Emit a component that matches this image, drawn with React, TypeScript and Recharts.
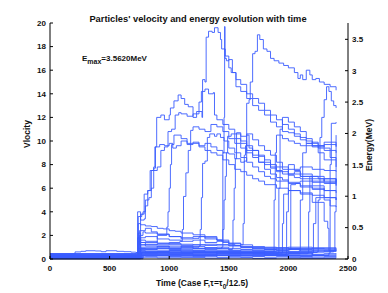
import { LineChart, Line, XAxis, YAxis } from 'recharts';

type Pt = [number, number];

// time axis / tick labels
const timeTicks = [0, 500, 1000, 1500, 2000, 2500];
const velTicks = [0, 2, 4, 6, 8, 10, 12, 14, 16, 18, 20];
const energyTicks = [0, 0.5, 1, 1.5, 2, 2.5, 3, 3.5];

// low band: particles that stay slow
const band01: Pt[] = [[0, 0.45], [700, 0.45], [720, 0.5], [735, 1.8], [750, 1.2], [800, 1.25], [900, 1.2], [1000, 1.25], [1100, 1.15], [1200, 1.2], [1300, 1.15], [1400, 1.2], [1500, 1.15], [1600, 1.05], [1700, 0.95], [1800, 0.9], [1900, 0.85], [2000, 0.9], [2100, 0.85], [2200, 0.9], [2300, 0.85], [2400, 0.9]];
const band02: Pt[] = [[0, 0.42], [200, 0.42], [210, 0.6], [260, 0.65], [300, 0.7], [380, 0.68], [430, 0.62], [470, 0.7], [560, 0.65], [620, 0.62], [680, 0.58], [720, 0.55], [740, 2.2], [760, 1.4], [800, 1.1], [900, 1.05], [1000, 1.1], [1100, 1.0], [1200, 1.05], [1300, 0.95], [1400, 1.0], [1500, 0.9], [1600, 0.95], [1700, 0.85], [1800, 0.8], [1900, 0.75], [2000, 0.8], [2100, 0.7], [2200, 0.75], [2300, 0.7], [2400, 0.75]];
const band03: Pt[] = [[0, 0.2], [720, 0.2], [745, 0.9], [800, 0.85], [900, 0.9], [1000, 0.8], [1100, 0.85], [1200, 0.9], [1300, 0.8], [1400, 0.85], [1500, 0.75], [1600, 0.8], [1700, 0.7], [1800, 0.65], [1900, 0.7], [2000, 0.6], [2100, 0.65], [2200, 0.6], [2300, 0.65], [2400, 0.6]];
const band04: Pt[] = [[0, 0.05], [720, 0.05], [750, 0.7], [800, 0.6], [900, 0.65], [1000, 0.7], [1100, 0.6], [1200, 0.65], [1300, 0.55], [1400, 0.6], [1500, 0.5], [1600, 0.55], [1700, 0.5], [1800, 0.45], [1900, 0.5], [2000, 0.45], [2100, 0.5], [2200, 0.4], [2300, 0.45], [2400, 0.5]];
const band05: Pt[] = [[0, 0.3], [720, 0.3], [740, 0.5], [800, 0.45], [900, 0.5], [1000, 0.4], [1100, 0.45], [1200, 0.35], [1300, 0.4], [1400, 0.35], [1500, 0.4], [1600, 0.3], [1700, 0.35], [1800, 0.3], [1900, 0.35], [2000, 0.3], [2100, 0.25], [2200, 0.3], [2300, 0.25], [2400, 0.3]];
const band06: Pt[] = [[0, 0.1], [730, 0.1], [750, 0.3], [800, 0.25], [900, 0.3], [1000, 0.2], [1100, 0.25], [1200, 0.2], [1300, 0.25], [1400, 0.15], [1500, 0.2], [1600, 0.15], [1700, 0.2], [1800, 0.15], [1900, 0.2], [2000, 0.1], [2100, 0.15], [2200, 0.1], [2300, 0.15], [2400, 0.1]];
const band07: Pt[] = [[0, 0.02], [740, 0.02], [760, 0.15], [900, 0.1], [1100, 0.12], [1300, 0.08], [1500, 0.1], [1700, 0.05], [1900, 0.08], [2100, 0.05], [2400, 0.06]];
const band08: Pt[] = [[0, 0.25], [720, 0.25], [740, 3.0], [760, 2.9], [800, 2.8], [850, 2.75], [900, 2.6], [950, 2.55], [1000, 2.4], [1050, 2.35], [1100, 2.2], [1200, 2.05], [1300, 1.9], [1400, 1.6], [1450, 1.4], [1500, 1.25], [1550, 1.15], [1600, 1.0], [1700, 0.9], [1800, 0.8], [1900, 0.85], [2000, 0.8], [2200, 0.75], [2400, 0.8]];
const band09: Pt[] = [[0, 0.15], [720, 0.15], [750, 2.4], [800, 2.6], [850, 2.3], [900, 2.1], [1000, 1.9], [1100, 1.7], [1200, 1.75], [1250, 1.9], [1300, 1.8], [1400, 1.6], [1500, 1.35], [1600, 1.2], [1700, 1.05], [1800, 1.0], [1900, 0.95], [2000, 1.0], [2200, 0.95], [2400, 0.9]];
const band10: Pt[] = [[0, 0.35], [720, 0.35], [760, 1.6], [800, 1.5], [900, 1.35], [1000, 1.3], [1100, 1.25], [1200, 1.2], [1300, 1.25], [1400, 1.2], [1500, 1.1], [1600, 1.0], [1800, 0.95], [2000, 0.9], [2200, 0.85], [2400, 0.8]];
const band11: Pt[] = [[0, 0.12], [730, 0.12], [770, 0.55], [900, 0.6], [1000, 0.5], [1200, 0.55], [1400, 0.45], [1600, 0.5], [1800, 0.4], [2000, 0.45], [2200, 0.35], [2400, 0.4]];
const band12: Pt[] = [[0, 0.08], [740, 0.08], [780, 0.35], [1000, 0.35], [1200, 0.3], [1400, 0.3], [1600, 0.25], [1800, 0.3], [2000, 0.2], [2200, 0.25], [2400, 0.2]];

// particles accelerated in the middle of the run
const tall01: Pt[] = [[0, 0.42], [720, 0.42], [740, 1.5], [760, 3.8], [780, 4], [800, 4.5], [820, 5.8], [850, 6], [870, 7.5], [900, 7.8], [930, 9.2], [960, 9.5], [990, 10.8], [1020, 11], [1050, 12.2], [1080, 12.4], [1100, 12.3], [1150, 12.1], [1200, 12.3], [1250, 12.5], [1275, 12], [1280, 15.2], [1300, 15], [1310, 18.8], [1330, 19.3], [1360, 19.2], [1380, 19.6], [1410, 19.2], [1430, 18.6], [1440, 17.8], [1470, 17.2], [1500, 16.2], [1520, 15.8], [1560, 14.6], [1600, 14.2], [1650, 13.6], [1700, 13], [1750, 12.6], [1800, 12.2], [1850, 11.6], [1900, 11.2], [1950, 10.8], [2000, 10.7], [2050, 10.4], [2100, 10.1], [2150, 9.8], [2200, 9.9], [2250, 9.6], [2300, 9.4], [2350, 9.2], [2400, 9.0]];
const tall02: Pt[] = [[0, 0.2], [720, 0.2], [750, 2], [780, 2.3], [800, 2.2], [900, 2.1], [1000, 1.9], [1100, 1.8], [1200, 1.9], [1300, 1.7], [1400, 1.6], [1440, 1.5], [1450, 9], [1460, 12], [1465, 19.7], [1468, 17], [1480, 16.8], [1500, 16.9], [1530, 15.8], [1560, 15.2], [1600, 14.8], [1650, 14], [1700, 13.6], [1750, 13.2], [1800, 12.6], [1850, 12.2], [1900, 11.8], [1950, 11.4], [2000, 11], [2050, 10.6], [2100, 10.3], [2150, 10], [2200, 9.6], [2250, 9.4], [2300, 9.2], [2350, 8.6], [2400, 8.4]];
const tall03: Pt[] = [[0, 0.05], [720, 0.05], [735, 4], [760, 3.3], [790, 3.4], [800, 5], [830, 5.2], [850, 7.5], [870, 7.8], [880, 9.5], [895, 12], [930, 12.2], [960, 11.8], [1000, 12.2], [1010, 12.8], [1040, 13.4], [1075, 13.9], [1100, 13.6], [1130, 13.1], [1160, 12.9], [1200, 12], [1230, 12.5], [1250, 13.3], [1270, 14.2], [1300, 14.4], [1330, 14], [1370, 14.1], [1380, 12.2], [1400, 11.8], [1450, 11.4], [1500, 11], [1550, 10.6], [1600, 10], [1650, 9.6], [1700, 9.2], [1750, 8.7], [1800, 8.4], [1850, 7.8], [1900, 7.5], [1950, 7.2], [2000, 7.1], [2050, 6.9], [2100, 6.8], [2200, 6.5], [2300, 6.4], [2400, 6.3]];
const tall04: Pt[] = [[0, 0.05], [730, 0.05], [760, 1.8], [800, 1.9], [900, 1.7], [1000, 1.6], [1100, 1.5], [1200, 1.6], [1300, 1.4], [1400, 1.5], [1500, 1.3], [1600, 1.2], [1620, 3], [1630, 8.8], [1640, 9.6], [1650, 13.2], [1670, 13.5], [1680, 15], [1700, 17.4], [1720, 17.6], [1740, 19], [1760, 18.6], [1790, 17.8], [1820, 17.6], [1850, 17], [1880, 16.8], [1920, 16.6], [1960, 16.4], [2000, 16.2], [2050, 15.8], [2080, 15.3], [2100, 15.6], [2120, 15.2], [2150, 16], [2180, 15.6], [2200, 15.2], [2230, 15.3], [2260, 15], [2300, 14.8], [2350, 14.6], [2400, 14.3]];
const tall05: Pt[] = [[0, 0.42], [720, 0.42], [760, 1.2], [900, 1.3], [1000, 1.4], [1090, 1.5], [1110, 2.5], [1120, 5.3], [1140, 7.3], [1160, 9.2], [1180, 10.9], [1200, 11.2], [1250, 11], [1300, 10.8], [1350, 11.4], [1400, 11.2], [1450, 10.8], [1500, 10.2], [1550, 9.8], [1600, 9.4], [1650, 9], [1700, 8.6], [1750, 8.2], [1800, 8], [1850, 7.7], [1900, 7.4], [2000, 7.2], [2100, 7], [2200, 6.8], [2300, 6.6], [2400, 6.4]];
const tall06: Pt[] = [[0, 0.2], [720, 0.2], [760, 1], [900, 1.1], [1000, 1.0], [1100, 1.05], [1200, 1.0], [1250, 1.1], [1260, 2.5], [1270, 5.2], [1280, 8.1], [1300, 8.3], [1320, 10.3], [1340, 10.6], [1380, 10.4], [1400, 10.6], [1430, 10.3], [1460, 10], [1500, 9.4], [1550, 9], [1600, 8.6], [1650, 8.2], [1700, 7.8], [1750, 7.4], [1800, 7], [1850, 6.8], [1900, 6.6], [2000, 6.4], [2100, 6.1], [2200, 5.9], [2300, 5.8], [2400, 5.6]];
const tall07: Pt[] = [[0, 0.3], [720, 0.3], [760, 0.9], [900, 1], [1000, 0.9], [1100, 1], [1200, 0.9], [1300, 0.95], [1400, 0.9], [1440, 1], [1450, 2.5], [1460, 5], [1470, 7], [1480, 9], [1490, 10.4], [1520, 10.6], [1550, 10.2], [1600, 9.8], [1650, 9.2], [1700, 8.8], [1750, 8.2], [1800, 7.6], [1850, 7.2], [1900, 6.9], [1950, 6.7], [2000, 6.5], [2100, 6.6], [2200, 6.2], [2300, 5.2], [2400, 5]];
const tall08: Pt[] = [[0, 0.1], [720, 0.1], [740, 3.6], [770, 3.8], [790, 5.5], [820, 5.8], [840, 7.5], [870, 7.7], [885, 9.5], [920, 9.7], [960, 9.6], [1000, 9.8], [1030, 9.4], [1060, 9.6], [1100, 10], [1150, 9.8], [1200, 9.9], [1250, 9.6], [1300, 9.8], [1350, 9.5], [1400, 9.2], [1450, 9.0], [1500, 8.9], [1550, 8.5], [1600, 8.2], [1630, 8.3], [1650, 10.5], [1670, 9.4], [1700, 9.2], [1750, 8.8], [1800, 8.2], [1850, 8], [1900, 7.8], [2000, 7.6], [2100, 7.8], [2200, 7.6], [2300, 7.5], [2400, 7.4]];
const tall09: Pt[] = [[0, 0.05], [730, 0.05], [760, 1.4], [900, 2], [980, 2.7], [990, 4], [1000, 6], [1010, 8], [1020, 9.7], [1040, 10.5], [1100, 10.2], [1150, 9.7], [1200, 9.8], [1250, 9.5], [1300, 9.2], [1350, 9], [1400, 8.8], [1450, 8.4], [1500, 8], [1550, 7.6], [1600, 7.4], [1650, 7.1], [1700, 6.8], [1750, 6.6], [1800, 6.3], [1900, 6], [2000, 5.8], [2100, 5.6], [2200, 5.4], [2300, 5.2], [2400, 5]];
const tall10: Pt[] = [[0, 0.15], [720, 0.15], [760, 0.8], [900, 0.9], [1100, 0.85], [1300, 0.9], [1500, 0.8], [1530, 0.9], [1535, 3.3], [1545, 6], [1555, 8.5], [1565, 10.7], [1600, 10.4], [1650, 10.6], [1700, 10.1], [1750, 9.6], [1800, 9.2], [1850, 8.8], [1900, 8.2], [1950, 7.6], [2000, 7.2], [2050, 7.4], [2100, 7], [2200, 6.6], [2300, 6.8], [2400, 6.6]];

// particles accelerated late
const late01: Pt[] = [[0, 0.3], [720, 0.3], [760, 0.6], [1000, 0.7], [1300, 0.65], [1600, 0.6], [1870, 0.6], [1880, 5], [1890, 9], [1900, 10.5], [1950, 10.2], [2000, 10], [2050, 9.8], [2100, 9.6], [2200, 9.5], [2300, 9.7], [2400, 9.5]];
const late02: Pt[] = [[0, 0.2], [720, 0.2], [760, 0.5], [1200, 0.5], [1600, 0.45], [1910, 0.5], [1920, 6], [1930, 11], [1950, 12], [2000, 11.6], [2050, 11.2], [2100, 10.8], [2150, 10.2], [2200, 9.8], [2250, 9], [2300, 8.4], [2400, 7.8]];
const late03: Pt[] = [[0, 0.05], [730, 0.05], [760, 0.3], [1200, 0.3], [1600, 0.35], [1975, 0.4], [1985, 4], [2000, 8], [2050, 7.5], [2100, 7.2], [2200, 7], [2300, 6.8], [2400, 6.2]];
const late04: Pt[] = [[0, 0.42], [720, 0.42], [760, 0.75], [1200, 0.7], [1600, 0.75], [2010, 0.8], [2020, 6.3], [2060, 6.4], [2100, 6.2], [2200, 6], [2300, 5.8], [2400, 5.8]];
const late05: Pt[] = [[0, 0.1], [730, 0.1], [770, 0.6], [1400, 0.55], [1800, 0.6], [2090, 0.7], [2100, 5], [2120, 9], [2150, 9.8], [2200, 9.6], [2300, 9.9], [2400, 9.6]];
const late06: Pt[] = [[0, 0.25], [720, 0.25], [760, 0.45], [1400, 0.5], [1800, 0.45], [2160, 0.5], [2170, 4], [2180, 7], [2250, 6.8], [2300, 6.5], [2400, 6.8]];
const late07: Pt[] = [[0, 0.15], [720, 0.15], [760, 0.35], [1400, 0.4], [1800, 0.35], [2200, 0.5], [2210, 3], [2230, 5.2], [2300, 5], [2350, 4.5], [2400, 4.4]];
const late08: Pt[] = [[0, 0.35], [720, 0.35], [760, 0.55], [1400, 0.6], [1800, 0.55], [2240, 0.6], [2250, 5], [2265, 10.3], [2280, 12], [2300, 13.5], [2320, 14.6], [2340, 14.2], [2360, 13.4], [2380, 13], [2400, 12.8]];
const late09: Pt[] = [[0, 0.02], [740, 0.02], [780, 0.25], [1400, 0.3], [1800, 0.3], [2340, 0.5], [2350, 8], [2360, 11.5], [2400, 11.6]];
const late10: Pt[] = [[0, 0.2], [720, 0.2], [760, 0.6], [1400, 0.65], [1800, 0.6], [2380, 0.7], [2390, 4], [2400, 10.5]];
const late11: Pt[] = [[0, 0.1], [730, 0.1], [770, 0.4], [1400, 0.5], [1940, 0.5], [1950, 3], [1960, 5.5], [2000, 5.8], [2100, 5.5], [2200, 4.8], [2300, 3.2], [2330, 2.6], [2340, 0.7], [2400, 0.8]];

const particles: Pt[][] = [
  band01, band02, band03, band04, band05, band06, band07, band08, band09, band10, band11, band12,
  tall01, tall02, tall03, tall04, tall05, tall06, tall07, tall08, tall09, tall10,
  late01, late02, late03, late04, late05, late06, late07, late08, late09, late10, late11,
];

const BLUE = '#3a5cff';
const FONT = '"Liberation Sans", Arial, sans-serif';
const tickStyle = { fill: '#111', fontSize: 8, fontWeight: 700, fontFamily: FONT };

const App = () => {
  return (
    <div style={{ position: 'absolute', left: 0, top: 0, width: 388, height: 293, background: '#fff' }}>
      <LineChart width={388} height={293} margin={{ top: 23, right: 0, bottom: 14, left: 0 }}>
        <XAxis
          dataKey="t"
          type="number"
          domain={[0, 2500]}
          ticks={timeTicks}
          height={20}
          axisLine={{ stroke: '#000' }}
          tickLine={{ stroke: '#000' }}
          tickSize={-3}
          tickMargin={9}
          tick={tickStyle}
        />
        <YAxis
          yAxisId="v"
          domain={[0, 20]}
          ticks={velTicks}
          width={50}
          axisLine={{ stroke: '#000' }}
          tickLine={{ stroke: '#000' }}
          tickSize={-3}
          tickMargin={7}
          tick={tickStyle}
        />
        <YAxis
          yAxisId="e"
          orientation="right"
          type="number"
          domain={[0, 3.76]}
          allowDataOverflow
          ticks={energyTicks}
          width={40}
          axisLine={{ stroke: '#000' }}
          tickLine={{ stroke: '#000' }}
          tickSize={-3}
          tickMargin={7}
          tick={{ ...tickStyle, textAnchor: 'start' }}
        />
        {particles.map((p, i) => (
          <Line
            key={i}
            yAxisId="v"
            data={p.map(([t, v]) => ({ t, v }))}
            dataKey="v"
            type="stepAfter"
            stroke={BLUE}
            strokeWidth={0.9}
            dot={false}
            isAnimationActive={false}
          />
        ))}
      </LineChart>
      <svg
        width={388}
        height={293}
        style={{ position: 'absolute', left: 0, top: 0, pointerEvents: 'none' }}
        fontFamily={FONT}
        fontWeight={700}
        fill="#111"
      >
        <text x={198} y={22} fontSize={9.3} textAnchor="middle">
          Particles' velocity and energy evolution with time
        </text>
        <text x={82} y={61} fontSize={8}>
          E<tspan fontSize={7} dy={3}>max</tspan>
          <tspan dy={-3}>=3.5620MeV</tspan>
        </text>
        <text x={202} y={286} fontSize={8.5} textAnchor="middle">
          Time (Case F,τ=τ<tspan fontSize={6.5} dy={2.5}>0</tspan>
          <tspan dy={-2.5}>/12.5)</tspan>
        </text>
        <text transform="translate(30,134) rotate(-90)" fontSize={8.5} textAnchor="middle">
          Vlocity
        </text>
        <text transform="translate(372,145) rotate(-90)" fontSize={8.5} textAnchor="middle">
          Energy(MeV)
        </text>
      </svg>
    </div>
  );
};

export default App;
